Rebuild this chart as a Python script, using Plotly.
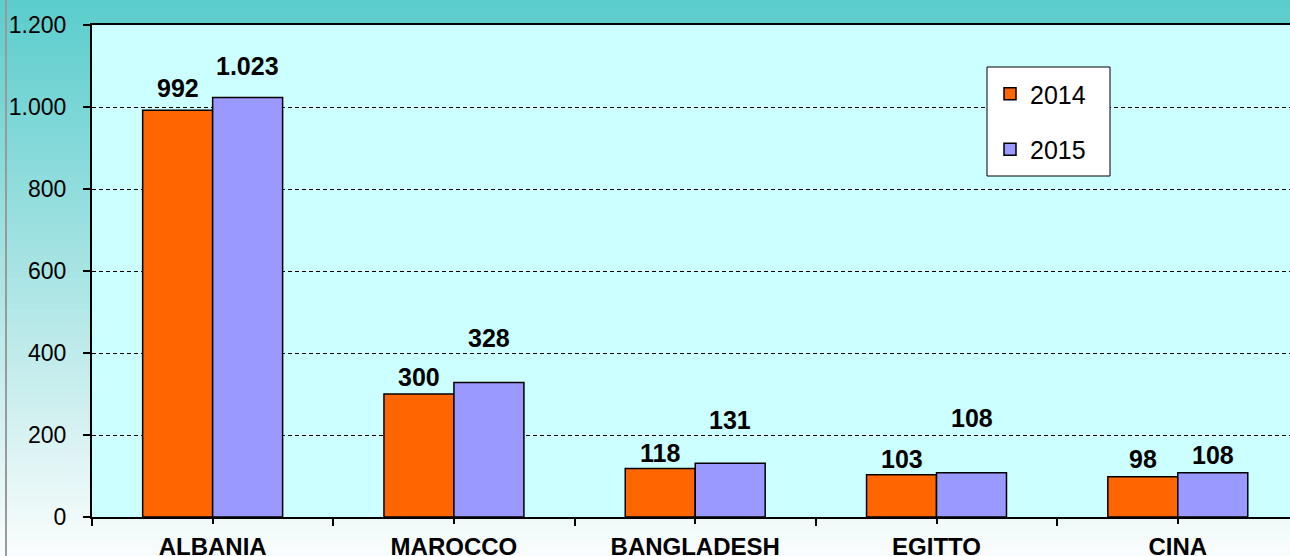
import plotly.graph_objects as go

paesi = ["ALBANIA", "MAROCCO", "BANGLADESH", "EGITTO", "CINA"]
valori_2014 = [992, 300, 118, 103, 98]
valori_2015 = [1023, 328, 131, 108, 108]

W, H = 1290, 556
ML, MT, MB = 92, 25, 39
plot_w = W - ML
plot_h = H - MT - MB
FONT = "Liberation Sans, Arial"


def px_x(p):
    return (p - ML) / plot_w


def px_y(p):
    return (H - MB - p) / plot_h


def fmt(v):
    return f"{v:,}".replace(",", ".")


x = list(range(len(paesi)))

fig = go.Figure()
fig.add_trace(go.Bar(
    x=x, y=valori_2014, name="2014", legendgroup="a",
    marker=dict(color="#ff6600", line=dict(color="black", width=1.5)),
))
fig.add_trace(go.Bar(
    x=x, y=valori_2015, name="2015", legendgroup="b",
    marker=dict(color="#9999ff", line=dict(color="black", width=1.5)),
))

# sfondo sfumato (dall'alto verde acqua verso bianco)
shapes = []
top = (92, 205, 205)
bot = (249, 252, 252)
n = 70
for i in range(n):
    t = i / (n - 1)
    c = tuple(round(top[k] + (bot[k] - top[k]) * t) for k in range(3))
    y0 = i * H / n
    y1 = (i + 1) * H / n + 1
    shapes.append(dict(
        type="rect", xref="paper", yref="paper", layer="below",
        x0=px_x(0), x1=px_x(W), y0=px_y(y1), y1=px_y(y0),
        fillcolor="rgb(%d,%d,%d)" % c, line=dict(width=0),
    ))
# area del grafico
shapes.append(dict(
    type="rect", xref="paper", yref="paper", layer="below",
    x0=0, x1=1, y0=0, y1=1, fillcolor="#ccffff", line=dict(width=0),
))
# bordo sinistro grigio
shapes.append(dict(
    type="line", xref="paper", yref="paper",
    x0=px_x(6), x1=px_x(6), y0=px_y(0), y1=px_y(H),
    line=dict(color="#9a9a9a", width=2),
))
# riquadro legenda
shapes.append(dict(
    type="rect", xref="paper", yref="paper", layer="above",
    x0=px_x(987), x1=px_x(1110), y0=px_y(176), y1=px_y(67),
    fillcolor="white", line=dict(color="black", width=1),
))

# etichette dati
shift_2014 = [22, 17, 16, 16, 18]
shift_2015 = [32, 45, 43, 55, 18]
annotations = []
for i in range(len(paesi)):
    for v, dx, s in ((valori_2014[i], -0.145, shift_2014[i]), (valori_2015[i], 0.145, shift_2015[i])):
        annotations.append(dict(
            x=x[i] + dx, y=v, xref="x", yref="y", text="<b>%s</b>" % fmt(v),
            showarrow=False, yanchor="middle", yshift=s,
            font=dict(family=FONT, size=25, color="black"),
        ))

fig.update_layout(
    width=W, height=H,
    margin=dict(l=ML, r=0, t=MT, b=MB, pad=0, autoexpand=False),
    paper_bgcolor="white", plot_bgcolor="#ccffff",
    font=dict(family=FONT, size=23, color="black"),
    barmode="group", bargap=0.42, bargroupgap=0,
    separators=",.",
    shapes=shapes, annotations=annotations,
    showlegend=True,
    legend=dict(
        x=px_x(990), y=px_y(71), xanchor="left", yanchor="top",
        bgcolor="rgba(0,0,0,0)", borderwidth=0,
        font=dict(size=25), traceorder="grouped", tracegroupgap=20,
    ),
)

fig.update_xaxes(
    range=[-0.5, 4.465], tickvals=x, ticktext=["<b>%s</b>" % p for p in paesi],
    tickfont=dict(size=24),
    ticks="outside", ticklen=5, tickwidth=1.5, tickcolor="black",
    minor=dict(tickvals=[i - 0.5 for i in x] + [4.5], ticks="outside", ticklen=7, tickwidth=1.5, tickcolor="black"),
    showline=True, linecolor="black", linewidth=2, mirror=True,
    showgrid=False, zeroline=False, ticklabelstandoff=2, automargin=False,
)
fig.update_yaxes(
    range=[0, 1200], dtick=200, tickformat=",d",
    ticks="outside", ticklen=7, tickwidth=1.5, tickcolor="black",
    showline=True, linecolor="black", linewidth=2,
    showgrid=True, gridcolor="black", gridwidth=1, griddash="4px,3px",
    zeroline=False, ticklabelstandoff=12, automargin=False,
)

fig.write_html("out.html", config={"displayModeBar": False},
               post_script="document.body.style.margin='0';")
